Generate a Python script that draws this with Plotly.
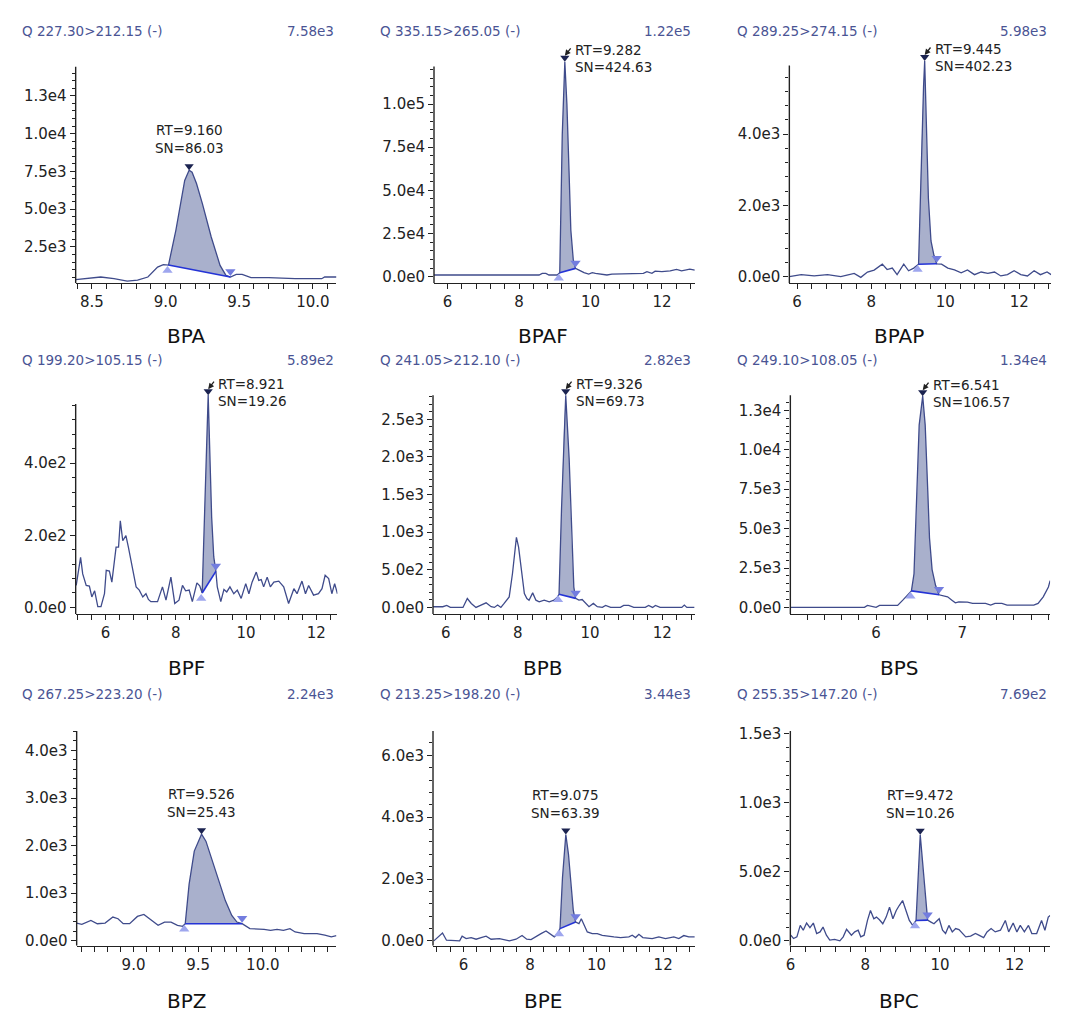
import plotly.graph_objects as go

W, H = 1080, 1032

# ---------------- data ----------------
compounds = ["BPA", "BPAF", "BPAP", "BPF", "BPB", "BPS", "BPZ", "BPE", "BPC"]
transitions = ["Q 227.30>212.15 (-)", "Q 335.15>265.05 (-)", "Q 289.25>274.15 (-)",
               "Q 199.20>105.15 (-)", "Q 241.05>212.10 (-)", "Q 249.10>108.05 (-)",
               "Q 267.25>223.20 (-)", "Q 213.25>198.20 (-)", "Q 255.35>147.20 (-)"]
max_labels = ["7.58e3", "1.22e5", "5.98e3", "5.89e2", "2.82e3", "1.34e4", "2.24e3", "3.44e3", "7.69e2"]
rt_labels = ["RT=9.160", "RT=9.282", "RT=9.445", "RT=8.921", "RT=9.326", "RT=6.541", "RT=9.526", "RT=9.075", "RT=9.472"]
sn_labels = ["SN=86.03", "SN=424.63", "SN=402.23", "SN=19.26", "SN=69.73", "SN=106.57", "SN=25.43", "SN=63.39", "SN=10.26"]

bpa_time = [8.39, 8.496, 8.56, 8.65, 8.74, 8.81, 8.88, 8.946, 8.985, 9.02, 9.07, 9.13, 9.16, 9.18, 9.21, 9.25,
            9.31, 9.37, 9.41, 9.44, 9.48, 9.52, 9.58, 9.70, 9.88, 10.06, 10.08, 10.16]
bpa_int = [332, 464, 510, 398, 243, 300, 510, 1170, 1330, 1300, 3600, 6900, 7580, 7450, 6700, 5370,
           3160, 1280, 620, 510, 680, 680, 464, 464, 398, 398, 510, 510]

bpaf_time = [5.62, 8.56, 8.65, 8.75, 8.84, 9.07, 9.14, 9.21, 9.282, 9.34, 9.40, 9.45, 9.52, 9.58, 9.68,
             9.82, 9.95, 10.05, 10.14, 10.32, 10.46, 10.6, 11.07, 11.48, 11.58, 11.72, 11.81, 12.0,
             12.23, 12.41, 12.55, 12.78, 12.92]
bpaf_int = [950, 950, 1900, 1900, 950, 950, 2300, 82000, 124500, 100000, 61000, 27000, 9500, 4800, 3800,
            2300, 1500, 2300, 1900, 1500, 950, 1500, 1900, 1900, 2900, 1900, 3200, 2900,
            3400, 4200, 3400, 4400, 3800]

bpap_time = [5.79, 6.11, 6.46, 6.82, 7.18, 7.54, 7.72, 7.90, 8.08, 8.30, 8.43, 8.57, 8.70, 8.88, 9.01,
             9.15, 9.28, 9.365, 9.415, 9.445, 9.495, 9.545, 9.615, 9.695, 9.77, 9.9, 10.07, 10.25,
             10.43, 10.6, 10.79, 10.97, 11.15, 11.33, 11.5, 11.68, 11.86, 12.04, 12.22, 12.4, 12.57,
             12.75, 12.86]
bpap_int = [0, 56, 20, 56, 0, 93, -20, 130, 185, 350, 200, 240, 56, 350, 165,
            240, 350, 3800, 5350, 6050, 3900, 2200, 1000, 600, 360, 350, 240, 190,
            110, 190, 56, 130, 93, 130, 20, 56, 165, 56, 20, 165, 56,
            130, 56]

bpf_time = [5.165, 5.29, 5.35, 5.45, 5.54, 5.61, 5.69, 5.78, 5.87, 5.97, 6.02, 6.11, 6.18, 6.30, 6.37,
            6.42, 6.49, 6.58, 6.65, 6.77, 6.87, 6.96, 7.06, 7.15, 7.22, 7.29, 7.48, 7.62, 7.72, 7.86,
            7.97, 8.09, 8.19, 8.28, 8.38, 8.47, 8.60, 8.68, 8.75, 8.921, 8.97, 9.02, 9.08, 9.14,
            9.18, 9.28, 9.37, 9.45, 9.54, 9.65, 9.75, 9.86, 9.99, 10.08, 10.17, 10.29, 10.36, 10.43,
            10.50, 10.60, 10.69, 10.79, 10.93, 11.07, 11.21, 11.36, 11.45, 11.59, 11.69, 11.78,
            11.92, 12.06, 12.16, 12.25, 12.35, 12.44, 12.52, 12.60]
bpf_int = [61, 139, 93, 61, 59, 29, 46, 2, 2, 38, 103, 101, 70, 167, 167,
           240, 185, 199, 167, 112, 57, 48, 29, 38, 22, 16, 16, 57, 20, 84,
           11, 20, 61, 46, 48, 16, 68, 60, 40, 589, 420, 250, 140, 100,
           57, 16, 50, 43, 57, 38, 48, 25, 66, 38, 70, 98, 75, 77,
           57, 84, 57, 70, 73, 57, 11, 52, 38, 73, 38, 61,
           34, 38, 52, 89, 80, 38, 66, 38]

bpb_time = [5.65, 5.92, 6.03, 6.13, 6.48, 6.60, 6.71, 6.84, 6.98, 7.12, 7.26, 7.35, 7.44, 7.53, 7.62,
            7.76, 7.85, 7.93, 7.96, 8.02, 8.11, 8.18, 8.25, 8.31, 8.41, 8.50, 8.59, 8.73, 8.87, 9.00,
            9.10, 9.14, 9.21, 9.28, 9.326, 9.42, 9.49, 9.55, 9.60, 9.69, 9.78, 9.88, 9.97, 10.09,
            10.20, 10.34, 10.43, 10.57, 10.84, 10.93, 11.07, 11.21, 11.53, 11.62, 11.73, 11.81,
            11.94, 12.54, 12.61, 12.68, 12.89]
bpb_int = [9, 9, 26, 0, 0, 118, 53, 0, 31, 61, 9, 0, 31, 0, 53,
           140, 447, 800, 930, 800, 447, 184, 118, 96, 193, 96, 75, 96, 75, 96,
           140, 175, 1320, 2420, 2820, 1980, 890, 270, 120, 96, 105, 53, 9, 53,
           9, 0, 26, 0, 0, 26, 26, 0, 0, 26, 0, 26,
           0, 0, 31, 0, 0]

bps_time = [5.01, 5.865, 5.90, 5.95, 6.0, 6.04, 6.25, 6.31, 6.37, 6.41, 6.44, 6.47, 6.50, 6.541, 6.57,
            6.60, 6.62, 6.65, 6.69, 6.73, 6.79, 6.83, 6.88, 6.92, 6.96, 7.06, 7.12, 7.27, 7.33, 7.38, 7.46,
            7.52, 7.83, 7.88, 7.94, 8.0, 8.02]
bps_int = [0, 0, 126, 42, 0, 126, 126, 460, 838, 1047, 2136, 6324, 11560, 13400, 11560,
           7370, 4400, 2400, 1400, 800, 712, 670, 460, 293, 356, 335, 251, 251, 147, 251, 251,
           147, 147, 251, 670, 1298, 1700]

bpz_time = [8.56, 8.60, 8.67, 8.72, 8.78, 8.84, 8.88, 8.92, 8.97, 9.03, 9.08, 9.14, 9.19, 9.24, 9.29,
            9.34, 9.38, 9.40, 9.43, 9.47, 9.526, 9.56, 9.61, 9.66, 9.71, 9.76, 9.80, 9.84, 9.90, 10.01,
            10.06, 10.11, 10.16, 10.21, 10.25, 10.32, 10.42, 10.48, 10.53, 10.57]
bpz_int = [374, 347, 430, 360, 374, 500, 465, 360, 360, 513, 555, 430, 326, 395, 395,
           326, 305, 360, 1192, 1886, 2240, 2094, 1678, 1262, 846, 534, 395, 360, 256, 243,
           222, 243, 222, 256, 187, 153, 153, 118, 83, 111]

bpe_time = [5.11, 5.24, 5.37, 5.49, 5.885, 5.96, 6.08, 6.23, 6.38, 6.53, 6.68, 6.83, 7.08, 7.38, 7.58,
            7.76, 7.90, 8.03, 8.18, 8.33, 8.48, 8.58, 8.73, 8.83, 8.90, 8.975, 9.075, 9.155, 9.225, 9.30,
            9.37, 9.47, 9.54, 9.62, 9.72, 9.87, 10.02, 10.17, 10.32, 10.52, 10.72, 10.97, 11.07, 11.17,
            11.27, 11.39, 11.67, 11.87, 12.07, 12.32, 12.47, 12.62, 12.77, 12.95]
bpe_int = [0, 128, 256, 21, 0, 150, 75, 107, 53, 107, 150, 53, 75, 0, 53,
           171, 53, 43, 150, 235, 320, 235, 128, 235, 395, 2050, 3440, 2800, 1837, 983,
           610, 555, 715, 500, 288, 235, 235, 180, 150, 128, 107, 128, 180, 107,
           213, 107, 75, 128, 75, 128, 75, 171, 128, 128]

bpc_time = [6.005, 6.08, 6.17, 6.26, 6.34, 6.43, 6.52, 6.61, 6.70, 6.79, 6.87, 6.96, 7.05, 7.18, 7.32,
            7.41, 7.50, 7.63, 7.72, 7.81, 7.88, 7.97, 8.06, 8.14, 8.23, 8.30, 8.38, 8.47, 8.56, 8.65,
            8.74, 8.83, 8.91, 9.00, 9.09, 9.18, 9.27, 9.36, 9.472, 9.58, 9.67, 9.76, 9.84, 9.98, 10.07,
            10.15, 10.24, 10.33, 10.42, 10.51, 10.60, 10.69, 10.82, 10.95, 11.04, 11.17, 11.26, 11.37,
            11.48, 11.62, 11.75, 11.84, 11.96, 12.06, 12.15, 12.26, 12.37, 12.46, 12.59, 12.72, 12.81,
            12.90, 12.95]
bpc_int = [41, 17, 29, 112, 77, 129, 96, 129, 53, 65, 100, 41, 5, 10, 0,
           29, 84, 41, 65, 77, 29, 41, 148, 220, 160, 172, 153, 124, 172, 244,
           160, 220, 256, 292, 220, 148, 112, 148, 769, 411, 150, 136, 124, 160, 77,
           53, 112, 65, 89, 81, 53, 29, 34, 53, 41, 24, 65, 89,
           65, 77, 148, 65, 129, 65, 112, 65, 112, 53, 53, 148, 77,
           172, 184]

times = [bpa_time, bpaf_time, bpap_time, bpf_time, bpb_time, bps_time, bpz_time, bpe_time, bpc_time]
intensities = [bpa_int, bpaf_int, bpap_int, bpf_int, bpb_int, bps_int, bpz_int, bpe_int, bpc_int]

# integration limits (start / end of the peak baseline)
peak_start_time = [9.02, 9.14, 9.28, 8.75, 9.14, 6.41, 9.40, 8.90, 9.36]
peak_end_time = [9.44, 9.58, 9.77, 9.14, 9.60, 6.73, 9.84, 9.37, 9.67]

# tick values / labels
ytick_vals = [[2500, 5000, 7500, 10000, 12500], [0, 25000, 50000, 75000, 100000], [0, 2000, 4000],
              [0, 200, 400], [0, 500, 1000, 1500, 2000, 2500], [0, 2500, 5000, 7500, 10000, 12500],
              [0, 1000, 2000, 3000, 4000], [0, 2000, 4000, 6000], [0, 500, 1000, 1500]]
ytick_text = [["2.5e3", "5.0e3", "7.5e3", "1.0e4", "1.3e4"], ["0.0e0", "2.5e4", "5.0e4", "7.5e4", "1.0e5"],
              ["0.0e0", "2.0e3", "4.0e3"], ["0.0e0", "2.0e2", "4.0e2"],
              ["0.0e0", "5.0e2", "1.0e3", "1.5e3", "2.0e3", "2.5e3"],
              ["0.0e0", "2.5e3", "5.0e3", "7.5e3", "1.0e4", "1.3e4"],
              ["0.0e0", "1.0e3", "2.0e3", "3.0e3", "4.0e3"], ["0.0e0", "2.0e3", "4.0e3", "6.0e3"],
              ["0.0e0", "5.0e2", "1.0e3", "1.5e3"]]
ytick_minor_step = [500, 5000, 400, 40, 100, 500, 200, 400, 100]
xtick_vals = [[8.5, 9.0, 9.5, 10.0], [6, 8, 10, 12], [6, 8, 10, 12], [6, 8, 10, 12], [6, 8, 10, 12],
              [6, 7], [9.0, 9.5, 10.0], [6, 8, 10, 12], [6, 8, 10, 12]]
xtick_text = [["8.5", "9.0", "9.5", "10.0"], ["6", "8", "10", "12"], ["6", "8", "10", "12"],
              ["6", "8", "10", "12"], ["6", "8", "10", "12"], ["6", "7"], ["9.0", "9.5", "10.0"],
              ["6", "8", "10", "12"], ["6", "8", "10", "12"]]
xtick_minor_step = [0.1, 0.4, 0.4, 0.4, 0.4, 0.2, 0.1, 0.4, 0.4]

# ---------------- layout geometry (pixels) ----------------
# (axis left, axis right, x-axis line y, y-axis line top)
panel_px = [(71, 333, 280, 61), (431, 693, 280, 61), (788, 1051, 280, 60),
            (71, 334, 614, 402), (430, 693, 614, 393), (789, 1050, 614, 393),
            (72, 333, 949, 732), (430, 693, 949, 732), (789, 1050, 949, 732)]
# y calibration: value a at pixel a, value b at pixel b
y_cal = [(2500, 243.3, 12500, 90.7), (0, 273.3, 100000, 99), (0, 273.3, 4000, 129.3),
         (0, 607.3, 400, 461.7), (0, 607.3, 2500, 417.3), (0, 607.3, 12500, 408.3),
         (0, 944, 4000, 751.7), (0, 944, 6000, 756.7), (0, 944, 1500, 735)]
x_ranges = [(8.39, 10.16), (5.62, 12.92), (5.79, 12.86), (5.15, 12.60), (5.65, 12.90),
            (5.005, 8.02), (8.56, 10.57), (5.085, 12.95), (5.995, 12.95)]
arrow_style = [False, True, True, True, True, True, False, False, False]
header_left_px = [15, 375, 733]
header_right_px = [333, 691, 1049]
header_y_px = [25, 357, 695]
label_x_px = [182, 541, 898]
label_y_px = [333, 668, 1005]

FONT = "DejaVu Sans"
AX = "#222222"
LINE = "#3f4b8b"
FILL = "#a9b0cc"
BASE = "#2433d6"
HEAD = "#4a5494"

fig = go.Figure()
annotations = []
shapes = []
layout_axes = {}


def frange(lo, hi, step):
    import math
    k = math.ceil(lo / step - 1e-9)
    out = []
    while k * step <= hi + 1e-9:
        out.append(round(k * step, 6))
        k += 1
    return out


for k in range(9):
    n = k + 1
    xa = "x" if n == 1 else f"x{n}"
    ya = "y" if n == 1 else f"y{n}"
    left, right, bottom, top = panel_px[k]
    va, pa, vb, pb = y_cal[k]
    ppu = (pa - pb) / (vb - va)  # pixels per unit

    def val(px):
        return va + (pa - px) / ppu

    t = times[k]
    y = intensities[k]
    ts, te = peak_start_time[k], peak_end_time[k]
    seg = [(tt, yy) for tt, yy in zip(t, y) if ts - 1e-9 <= tt <= te + 1e-9]
    apex_t, apex_v = max(seg, key=lambda p: p[1])
    start_v = seg[0][1]
    end_v = seg[-1][1]

    apex_px = pa - (apex_v - va) * ppu
    dom_top_px = min(top, apex_px - 12)
    y_lo = val(bottom)
    y_hi = val(dom_top_px)
    y_axis_top = val(top)

    x_lo, x_hi = x_ranges[k]
    ppx = (right - left) / (x_hi - x_lo)

    # peak fill (closing segment = baseline)
    fig.add_trace(go.Scatter(x=[p[0] for p in seg], y=[p[1] for p in seg], fill="toself",
                             fillcolor=FILL, mode="none", xaxis=xa, yaxis=ya, hoverinfo="skip"))
    # chromatogram
    fig.add_trace(go.Scatter(x=t, y=y, mode="lines", line=dict(color=LINE, width=1.3),
                             xaxis=xa, yaxis=ya, hoverinfo="skip"))
    # baseline
    fig.add_trace(go.Scatter(x=[ts, te], y=[start_v, end_v], mode="lines",
                             line=dict(color=BASE, width=1.6), xaxis=xa, yaxis=ya, hoverinfo="skip"))
    # markers
    peak_my = apex_v + 4 / ppu
    fig.add_trace(go.Scatter(x=[ts - 1 / ppx], y=[start_v - 5.5 / ppu], mode="markers",
                             marker=dict(symbol="triangle-up", size=9, color="#9ea6ee"),
                             cliponaxis=False, xaxis=xa, yaxis=ya, hoverinfo="skip"))
    fig.add_trace(go.Scatter(x=[te], y=[end_v + 5.5 / ppu], mode="markers",
                             marker=dict(symbol="triangle-down", size=9, color="#737ddf"),
                             cliponaxis=False, xaxis=xa, yaxis=ya, hoverinfo="skip"))
    fig.add_trace(go.Scatter(x=[apex_t], y=[peak_my], mode="markers",
                             marker=dict(symbol="triangle-down", size=8, color="#1b2350"),
                             cliponaxis=False, xaxis=xa, yaxis=ya, hoverinfo="skip"))

    # RT / SN labels
    if arrow_style[k]:
        annotations.append(dict(x=apex_t, y=peak_my, xref=xa, yref=ya, text="", showarrow=True,
                                arrowhead=2, arrowsize=0.9, arrowwidth=1.3, arrowcolor=AX,
                                ax=7, ay=-9, xshift=0, yshift=2, standoff=0))
        for txt, ysh in ((rt_labels[k], 7.5), (sn_labels[k], -9.5)):
            annotations.append(dict(x=apex_t, y=peak_my, xref=xa, yref=ya, text=txt, showarrow=False,
                                    xanchor="left", yanchor="middle", xshift=8, yshift=ysh,
                                    font=dict(family=FONT, size=13.5, color=AX)))
    else:
        for txt, ysh in ((rt_labels[k], 40), (sn_labels[k], 22)):
            annotations.append(dict(x=apex_t, y=apex_v, xref=xa, yref=ya, text=txt, showarrow=False,
                                    xanchor="center", yanchor="middle", yshift=ysh,
                                    font=dict(family=FONT, size=13.5, color=AX)))

    # y axis line (only up to the axis top)
    shapes.append(dict(type="line", xref=f"{xa} domain", yref=ya, x0=0, x1=0, y0=y_lo, y1=y_axis_top,
                       line=dict(color=AX, width=1.4)))

    ymin_ticks = frange(y_lo, y_axis_top, ytick_minor_step[k])
    xmin_ticks = frange(x_lo, x_hi, xtick_minor_step[k])

    key = "" if n == 1 else str(n)
    layout_axes[f"xaxis{key}"] = dict(
        domain=[left / W, right / W], anchor=ya, range=[x_lo, x_hi],
        showline=True, linecolor=AX, linewidth=1.4, showgrid=False, zeroline=False,
        ticks="outside", ticklen=5, tickwidth=1.2, tickcolor=AX,
        tickmode="array", tickvals=xtick_vals[k], ticktext=xtick_text[k],
        tickfont=dict(family=FONT, size=15, color=AX),
        minor=dict(tickmode="array", tickvals=xmin_ticks, ticks="outside", ticklen=5,
                   tickwidth=1.2, tickcolor=AX, showgrid=False),
        fixedrange=True)
    layout_axes[f"yaxis{key}"] = dict(
        domain=[1 - bottom / H, 1 - dom_top_px / H], anchor=xa, range=[y_lo, y_hi],
        showline=False, showgrid=False, zeroline=False,
        ticks="outside", ticklen=5, tickwidth=1.2, tickcolor=AX,
        tickmode="array", tickvals=ytick_vals[k], ticktext=ytick_text[k],
        tickfont=dict(family=FONT, size=15, color=AX),
        minor=dict(tickmode="array", tickvals=ymin_ticks, ticks="outside", ticklen=3,
                   tickwidth=1.1, tickcolor=AX, showgrid=False),
        fixedrange=True)

    col, row = k % 3, k // 3
    annotations.append(dict(x=header_left_px[col] / W, y=1 - header_y_px[row] / H, xref="paper", yref="paper",
                            text=transitions[k], showarrow=False, xanchor="left", yanchor="middle",
                            font=dict(family=FONT, size=13.5, color=HEAD)))
    annotations.append(dict(x=header_right_px[col] / W, y=1 - header_y_px[row] / H, xref="paper", yref="paper",
                            text=max_labels[k], showarrow=False, xanchor="right", yanchor="middle",
                            font=dict(family=FONT, size=13.5, color=HEAD)))
    annotations.append(dict(x=label_x_px[col] / W, y=1 - label_y_px[row] / H, xref="paper", yref="paper",
                            text=compounds[k], showarrow=False, xanchor="center", yanchor="middle",
                            font=dict(family=FONT, size=20, color="#111111")))

fig.update_layout(width=W, height=H, margin=dict(l=0, r=0, t=0, b=0), showlegend=False,
                  paper_bgcolor="white", plot_bgcolor="white", annotations=annotations, shapes=shapes,
                  **layout_axes)

fig.write_html("out.html", config={"displayModeBar": False})
